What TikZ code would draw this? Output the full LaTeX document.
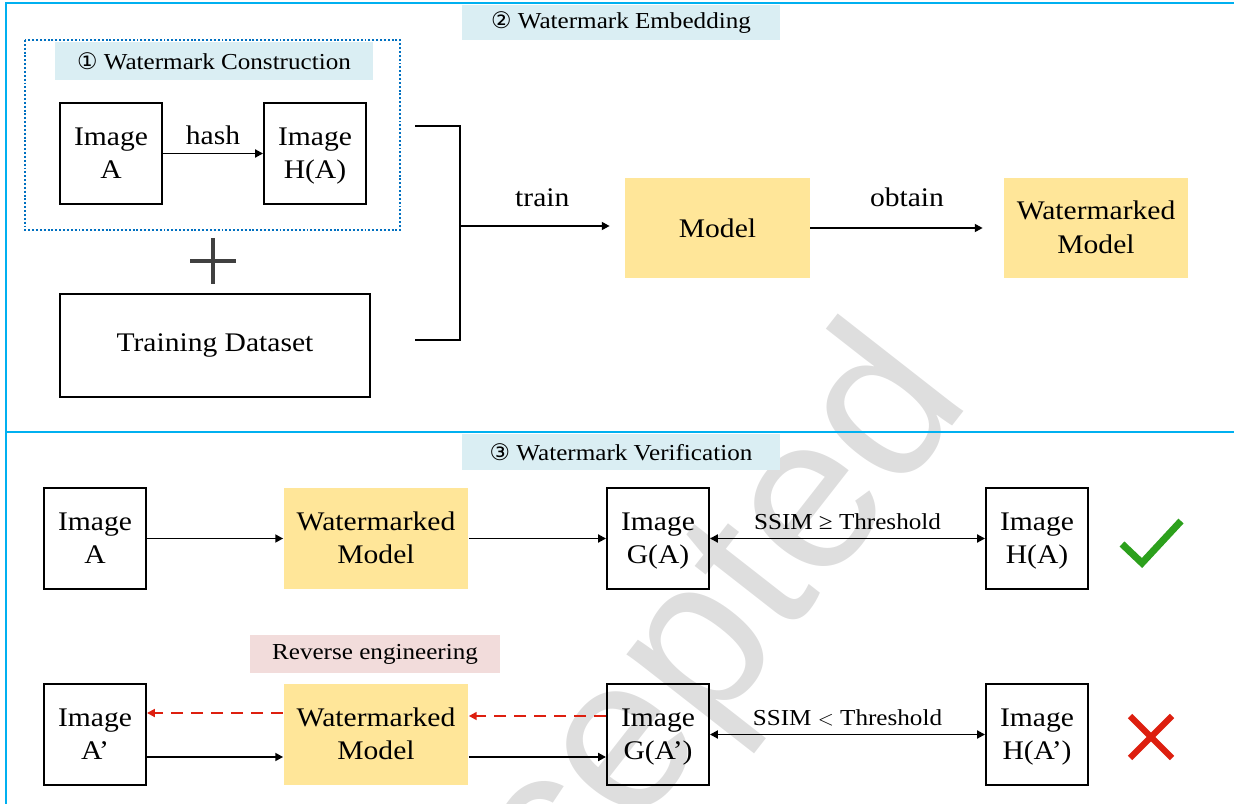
\documentclass[tikz,border=0pt]{standalone}
\usepackage{fontspec}
\setmainfont{Liberation Serif}[FakeStretch=1.1]
\newfontfamily\symfont{DejaVu Sans}
\newfontfamily\stampfont{Liberation Sans}
\usetikzlibrary{arrows.meta}

\definecolor{framecyan}{HTML}{00B0F0}
\definecolor{tagblue}{HTML}{DAEEF3}
\definecolor{tagpink}{HTML}{F2DCDB}
\definecolor{modelgold}{HTML}{FFE699}
\definecolor{dotblue}{HTML}{0070C0}
\definecolor{plusgray}{HTML}{404040}
\definecolor{okgreen}{HTML}{2CA01C}
\definecolor{badred}{HTML}{DD1F0F}

% two lines with the same height and depth in every box
\newcommand{\twolines}[2]{\rule{0pt}{12.8pt}#1\\#2\vphantom{(}}

\tikzset{
  imgbox/.style={draw, line width=1.1pt, minimum width=2.04cm, minimum height=2.02cm,
    inner sep=0pt, align=center, font=\fontsize{15.3}{19}\selectfont},
  modelbox/.style={fill=modelgold, minimum width=3.7cm, minimum height=2.02cm,
    inner sep=0pt, align=center, font=\fontsize{15.3}{19}\selectfont},
  tag/.style={inner sep=0pt, font=\fontsize{13}{15}\selectfont},
  lbl/.style={font=\fontsize{15.3}{19}\selectfont},
  small/.style={font=\fontsize{13}{15}\selectfont},
  arr/.style={-{Triangle[length=4.5pt,width=4.5pt]}, line width=1.1pt},
  dblarr/.style={{Triangle[length=4.5pt,width=4.5pt]}-{Triangle[length=4.5pt,width=4.5pt]}, line width=1.1pt},
  redarr/.style={-{Triangle[length=4.5pt,width=4.5pt]}, line width=1.1pt, badred,
    dash pattern=on 0.24cm off 0.16cm},
  frame/.style={framecyan, line width=1.7pt},
}

\begin{document}
\begin{tikzpicture}[x=0.02cm, y=-0.02cm]
  \useasboundingbox (0,0) rectangle (1234,804);

  % faint stamp across the page
  \begin{scope}
    \clip (0,0) rectangle (1234,804);
    \node[anchor=base, rotate=52, text=black!13, font=\stampfont\fontsize{125}{130}\selectfont]
      (stamp) at (691,761) {Accepted};
  \end{scope}

  % outer frames
  \draw[frame] (1234,3) -- (6,3) -- (6,804);
  \draw[frame] (6,432) -- (1234,432);

  % part 2: embedding
  \node[tag, fill=tagblue, minimum width=6.36cm, minimum height=0.7cm] (tagEmbed) at (621,22.5)
    {{\symfont ②} Watermark Embedding};

  % part 1: construction, inside the dotted box
  \draw[dotblue, line width=1.1pt, dash pattern=on 1.1pt off 1.1pt] (25,40) rectangle (400,230);
  \node[tag, fill=tagblue, minimum width=6.36cm, minimum height=0.76cm] (tagConstr) at (214,61)
    {{\symfont ①} Watermark Construction};
  \node[imgbox] (imgA) at (111,153.5) {\twolines{Image}{A}};
  \node[imgbox] (imgHA) at (315,153.5) {\twolines{Image}{H(A)}};
  \draw[arr] (imgA) -- node[above=1pt, lbl] {hash} (imgHA);

  % plus sign
  \draw[plusgray, line width=2.8pt] (190,261) -- (236,261) (213,238) -- (213,284);

  \node[imgbox, minimum width=6.2cm, minimum height=2.06cm] (trainset) at (215,345.5) {Training Dataset};

  % bracket joining both inputs
  \coordinate (brTop) at (415,126);
  \coordinate (brBot) at (415,340);
  \coordinate (brMid) at (460,226);
  \draw[line width=1.1pt] (brTop) -| (brMid) |- (brBot);

  \node[modelbox, minimum height=2cm] (model) at (717.5,228) {Model};
  \node[modelbox, minimum width=3.68cm, minimum height=2cm] (wmTop) at (1096,228) {\twolines{Watermarked}{Model}};
  \draw[arr, shorten >=0.3cm] (brMid) -- node[above=0.25cm, lbl] {train} (brMid -| model.west);
  \draw[arr, shorten >=0.42cm] (model) -- node[above=0.28cm, lbl] {obtain} (wmTop);

  % part 3: verification
  \node[tag, fill=tagblue, minimum width=6.36cm, minimum height=0.72cm] (tagVerif) at (621,452)
    {{\symfont ③} Watermark Verification};

  % genuine query
  \node[imgbox] (imgA1) at (95,538.5) {\twolines{Image}{A}};
  \node[modelbox] (wm1) at (376,538.5) {\twolines{Watermarked}{Model}};
  \node[imgbox] (imgGA) at (658,538.5) {\twolines{Image}{G(A)}};
  \node[imgbox] (imgHA2) at (1037,538.5) {\twolines{Image}{H(A)}};
  \draw[arr] (imgA1) -- (wm1);
  \draw[arr] (wm1) -- (imgGA);
  \draw[dblarr] (imgGA) -- node[above=1pt, small] {SSIM ≥ Threshold} (imgHA2);
  \draw[okgreen, line width=4pt] (1122,544) -- (1142,563) -- (1181,521);

  % forged query
  \node[tag, fill=tagpink, minimum width=5cm, minimum height=0.76cm] (tagRev) at (375,654)
    {Reverse engineering};
  \node[imgbox] (imgA2) at (95,734.5) {\twolines{Image}{A’}};
  \node[modelbox] (wm2) at (376,734.5) {\twolines{Watermarked}{Model}};
  \node[imgbox] (imgGA2) at (658,734.5) {\twolines{Image}{G(A’)}};
  \node[imgbox] (imgHA3) at (1037,734.5) {\twolines{Image}{H(A’)}};
  \draw[arr] ([yshift=-0.45cm]imgA2.east) -- ([yshift=-0.45cm]wm2.west);
  \draw[arr] ([yshift=-0.45cm]wm2.east) -- ([yshift=-0.45cm]imgGA2.west);
  \draw[redarr] ([yshift=0.43cm]wm2.west) -- ([yshift=0.43cm]imgA2.east);
  \draw[redarr] ([yshift=0.37cm]imgGA2.west) -- ([yshift=0.37cm]wm2.east);
  \draw[dblarr] (imgGA2) -- node[above=1pt, small] {SSIM $<$ Threshold} (imgHA3);
  \draw[badred, line width=3.5pt] (1130,716) -- (1172,758) (1172,716) -- (1130,758);
\end{tikzpicture}
\end{document}
